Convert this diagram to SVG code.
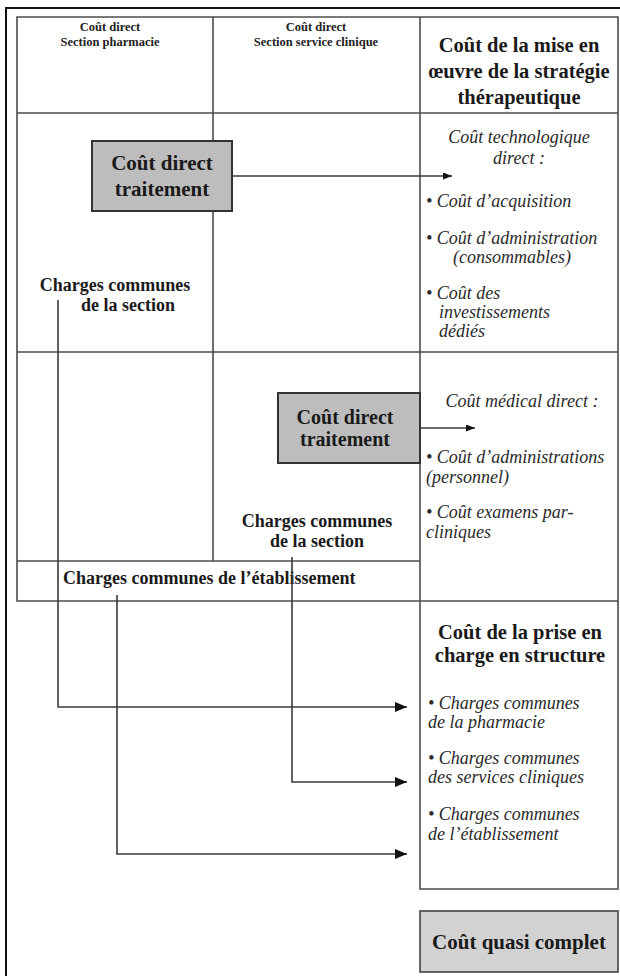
<svg xmlns="http://www.w3.org/2000/svg" width="620" height="976" viewBox="0 0 620 976">
<style>
.grid{stroke:#4d4d4d;stroke-width:1.6;fill:none}
.outer{stroke:#111;stroke-width:2;fill:none}
.hd{font-family:"Liberation Serif",serif;font-weight:bold;font-size:12.5px;fill:#222;text-anchor:middle}
.title{font-family:"Liberation Serif",serif;font-weight:bold;font-size:20.5px;fill:#1a1a1a;text-anchor:middle}
.box{fill:#bdbdbd;stroke:#333;stroke-width:2}
.boxq{fill:#d2d2d2;stroke:#444;stroke-width:1.6}
.bt{font-family:"Liberation Serif",serif;font-weight:bold;font-size:21px;fill:#1a1a1a;text-anchor:middle}
.bt2{font-size:20px}
.cc{font-family:"Liberation Serif",serif;font-weight:bold;font-size:18px;fill:#1a1a1a}
.it{font-family:"Liberation Serif",serif;font-style:italic;font-size:18px;fill:#2a2a2a}
.mid{text-anchor:middle}
.conn{stroke:#3a3a3a;stroke-width:1.6;fill:none}
</style>
<defs>
<marker id="ah" markerWidth="12" markerHeight="10" refX="12" refY="5" orient="auto" markerUnits="userSpaceOnUse">
<path d="M0,0 L12,5 L0,10 Z" fill="#111"/>
</marker>
<marker id="ahs" markerWidth="9" markerHeight="7" refX="9" refY="3.5" orient="auto" markerUnits="userSpaceOnUse">
<path d="M0,0 L9,3.5 L0,7 Z" fill="#111"/>
</marker>
</defs>
<rect width="620" height="976" fill="#fff"/>
<g id="frame">
<path class="outer" d="M6,976 L6,8 L620,8"/>
<path class="grid" d="M17,17 H618 V601 H17 Z"/>
<path class="grid" d="M17,113 H618 M17,352 H618 M17,561 H420 M213,17 V561 M420,17 V889 M420,601 V889 H618 V601"/>
</g>
<g id="header-pharmacie">
<text class="hd" x="110" y="31">Coût direct</text>
<text class="hd" x="110" y="46">Section pharmacie</text>
</g>
<g id="header-clinique">
<text class="hd" x="316" y="31">Coût direct</text>
<text class="hd" x="316" y="46">Section service clinique</text>
</g>
<g id="header-strategie">
<text class="title" x="519" y="52">Coût de la mise en</text>
<text class="title" x="519" y="78">œuvre de la stratégie</text>
<text class="title" x="519" y="104">thérapeutique</text>
</g>
<g id="cout-direct-pharmacie">
<rect class="box" x="92" y="141" width="140" height="70"/>
<text class="bt" x="162" y="170">Coût direct</text>
<text class="bt" x="162" y="196">traitement</text>
</g>
<g id="charges-section-pharmacie">
<text class="cc mid" x="115" y="291">Charges communes</text>
<text class="cc mid" x="128" y="311">de la section</text>
</g>
<g id="cout-technologique">
<text class="it mid" x="519" y="143">Coût technologique</text>
<text class="it mid" x="519" y="164">direct :</text>
<text class="it" x="426" y="207">• Coût d’acquisition</text>
<text class="it" x="426" y="244">• Coût d’administration</text>
<text class="it" x="453" y="263">(consommables)</text>
<text class="it" x="426" y="299">• Coût des</text>
<text class="it" x="439" y="318">investissements</text>
<text class="it" x="439" y="337">dédiés</text>
</g>
<g id="cout-direct-clinique">
<rect class="box" x="278" y="393" width="142" height="70"/>
<text class="bt bt2" x="345" y="424">Coût direct</text>
<text class="bt bt2" x="345" y="446">traitement</text>
</g>
<g id="charges-section-clinique">
<text class="cc mid" x="317" y="527">Charges communes</text>
<text class="cc mid" x="317" y="547">de la section</text>
</g>
<g id="cout-medical">
<text class="it mid" x="522" y="407">Coût médical direct :</text>
<text class="it" x="426" y="463">• Coût d’administrations</text>
<text class="it" x="426" y="483">(personnel)</text>
<text class="it" x="426" y="518">• Coût examens par-</text>
<text class="it" x="426" y="538">cliniques</text>
</g>
<g id="charges-etablissement">
<text class="cc" x="63" y="584">Charges communes de l’établissement</text>
</g>
<g id="prise-en-charge">
<text class="title" x="520" y="639">Coût de la prise en</text>
<text class="title" x="520" y="662">charge en structure</text>
<text class="it" x="428" y="709">• Charges communes</text>
<text class="it" x="428" y="728">de la pharmacie</text>
<text class="it" x="428" y="764">• Charges communes</text>
<text class="it" x="428" y="783">des services cliniques</text>
<text class="it" x="428" y="820">• Charges communes</text>
<text class="it" x="428" y="840">de l’établissement</text>
</g>
<g id="cout-quasi-complet">
<rect class="boxq" x="420" y="911" width="198" height="61"/>
<text class="bt" x="519" y="949">Coût quasi complet</text>
</g>
<g id="connectors">
<path class="conn" d="M232,176 H452" marker-end="url(#ahs)"/>
<path class="conn" d="M420,428 H475" marker-end="url(#ahs)"/>
<path class="conn" d="M58,300 V707 H407" marker-end="url(#ah)"/>
<path class="conn" d="M292,557 V782 H407" marker-end="url(#ah)"/>
<path class="conn" d="M117,595 V854 H407" marker-end="url(#ah)"/>
</g>
</svg>
